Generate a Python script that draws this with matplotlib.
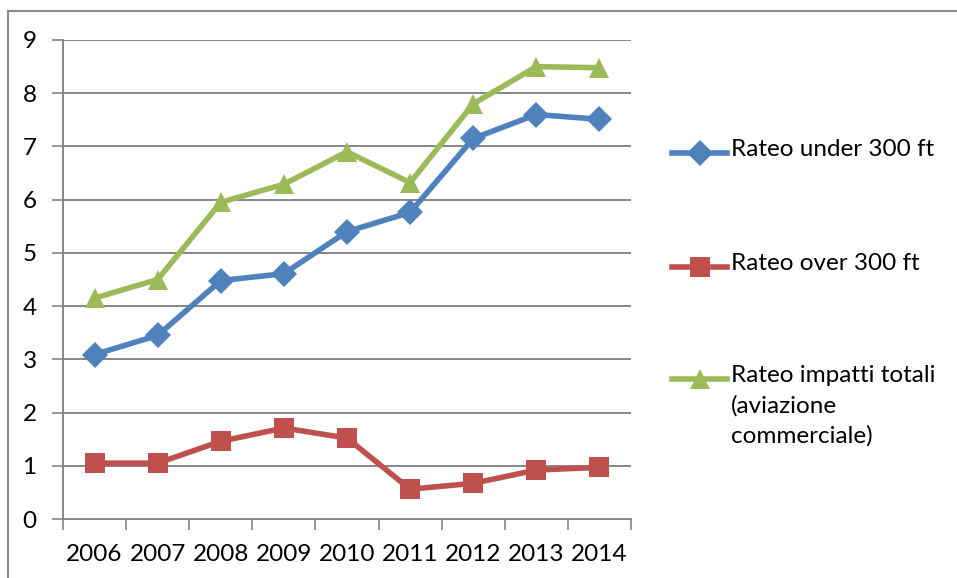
import matplotlib
matplotlib.use('Agg')
import matplotlib.pyplot as plt
from matplotlib.lines import Line2D
import numpy as np

plt.rcParams['font.family'] = ['Lato', 'DejaVu Sans']

# Dati
anni = ['2006', '2007', '2008', '2009', '2010', '2011', '2012', '2013', '2014']
rateo_under = [3.09, 3.45, 4.48, 4.61, 5.40, 5.76, 7.15, 7.60, 7.51]
rateo_over = [1.05, 1.05, 1.46, 1.71, 1.52, 0.56, 0.67, 0.92, 0.97]
rateo_totali = [4.15, 4.50, 5.95, 6.29, 6.90, 6.32, 7.80, 8.50, 8.48]

etichette = ['Rateo under 300 ft', 'Rateo over 300 ft',
             'Rateo impatti totali\n(aviazione\ncommerciale)']
colori = ['#4F81BD', '#C0504D', '#9BBB59']
marker = ['D', 's', '^']
msize = [13, 14, 15]
grigio = '#868686'
fs = 17.5

W, H = 957, 578
fig = plt.figure(figsize=(W / 100, H / 100), dpi=100)
ax = fig.add_axes((63 / W, 1 - 519 / H, 568 / W, 479 / H))

x = np.arange(len(anni))
for serie, c, m, ms in zip([rateo_under, rateo_over, rateo_totali], colori, marker, msize):
    ax.plot(x, serie, color=c, lw=4, marker=m, markersize=ms,
            markeredgewidth=0, zorder=3)

ax.set_xlim(-0.5, len(anni) - 0.5)
ax.set_ylim(0, 9)
ax.set_yticks(range(10))
ax.set_xticks(x)
ax.set_xticklabels(anni)
ax.set_xticks(np.arange(-0.5, len(anni)), minor=True)
ax.tick_params(axis='x', which='major', length=0, pad=18, labelsize=fs)
ax.tick_params(axis='x', which='minor', length=8, width=1.2, color=grigio, direction='out')
ax.tick_params(axis='y', length=8, width=1.2, color=grigio, pad=11, labelsize=fs)

ax.grid(axis='y', color=grigio, lw=1.4)
ax.set_axisbelow(True)
for lato in ['top', 'right']:
    ax.spines[lato].set_visible(False)
ax.spines['left'].set_color(grigio)
ax.spines['left'].set_linewidth(1.4)
ax.spines['bottom'].set_color(grigio)
ax.spines['bottom'].set_linewidth(1.4)

# Legenda disegnata a mano (stile Excel)
y_leg = [153, 267, 379]
for lab, c, m, ms, yy in zip(etichette, colori, marker, msize, y_leg):
    fy = 1 - yy / H
    fig.add_artist(Line2D([672 / W, 727 / W], [fy, fy], color=c, lw=4))
    fig.add_artist(Line2D([700 / W], [fy], color=c, marker=m, markersize=ms,
                          markeredgewidth=0))
    fig.text(731 / W, 1 - (yy - 14) / H, lab, fontsize=fs, va='top', ha='left',
             linespacing=1.5)

# Bordo esterno
fig.add_artist(Line2D([8 / W, 1], [1 - 10.5 / H, 1 - 10.5 / H], color='#8c8c8c', lw=1.5))
fig.add_artist(Line2D([8 / W, 8 / W], [0, 1 - 10.5 / H], color='#8c8c8c', lw=1.5))

fig.savefig('out.png', dpi=100)
